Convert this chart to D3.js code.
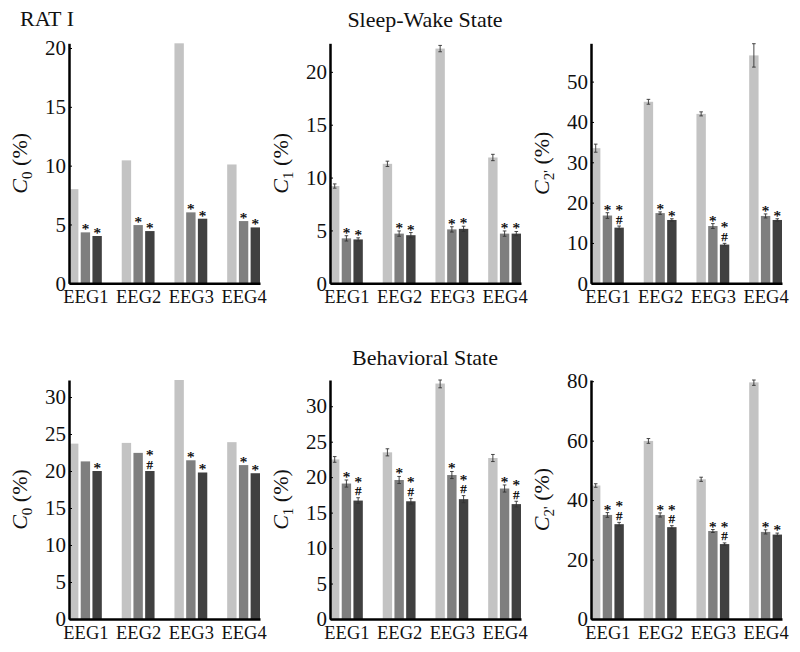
<!DOCTYPE html>
<html><head><meta charset="utf-8">
<script src="https://cdn.jsdelivr.net/npm/d3@7"></script>
<style>
html,body{margin:0;padding:0;background:#fff;}
svg{display:block;}
svg text{font-family:"Liberation Serif","Times New Roman",serif !important;}
</style></head>
<body><svg id="chart" width="800" height="652"></svg>
<script>
// ---------- data ----------
const groups = ["EEG1", "EEG2", "EEG3", "EEG4"];

// Sleep-Wake state
const sleepC0_b1 = [8.0, 10.45, 20.4, 10.1];
const sleepC0_b2 = [4.33, 4.95, 6.03, 5.29];
const sleepC0_b3 = [4.02, 4.44, 5.49, 4.75];
const sleepC0_s2 = ["*", "*", "*", "*"];
const sleepC0_s3 = ["*", "*", "*", "*"];
const sleepC0_ticks = [0, 5, 10, 15, 20];

const sleepC1_b1 = [9.2, 11.3, 22.2, 11.9];
const sleepC1_b2 = [4.25, 4.7, 5.1, 4.7];
const sleepC1_b3 = [4.15, 4.55, 5.15, 4.7];
const sleepC1_e1 = [0.2, 0.25, 0.3, 0.3];
const sleepC1_e2 = [0.25, 0.25, 0.25, 0.25];
const sleepC1_e3 = [0.15, 0.25, 0.25, 0.2];
const sleepC1_s2 = ["*", "*", "*", "*"];
const sleepC1_s3 = ["*", "*", "*", "*"];
const sleepC1_ticks = [0, 5, 10, 15, 20];

const sleepC2_b1 = [33.5, 45.0, 42.0, 56.5];
const sleepC2_b2 = [16.8, 17.4, 14.2, 16.7];
const sleepC2_b3 = [13.8, 15.7, 9.6, 15.7];
const sleepC2_e1 = [1.0, 0.6, 0.5, 2.9];
const sleepC2_e2 = [0.7, 0.3, 0.6, 0.5];
const sleepC2_e3 = [0.4, 0.3, 0.3, 0.3];
const sleepC2_s2 = ["*", "*", "*", "*"];
const sleepC2_s3 = ["*#", "*", "*#", "*"];
const sleepC2_ticks = [0, 10, 20, 30, 40, 50];

// Behavioral state
const behC0_b1 = [23.7, 23.8, 32.3, 23.9];
const behC0_b2 = [21.3, 22.45, 21.45, 20.8];
const behC0_b3 = [20.0, 20.0, 19.8, 19.7];
const behC0_s2 = ["", "", "*", "*"];
const behC0_s3 = ["*", "*#", "*", "*"];
const behC0_ticks = [0, 5, 10, 15, 20, 25, 30];

const behC1_b1 = [22.5, 23.5, 33.2, 22.7];
const behC1_b2 = [19.1, 19.6, 20.3, 18.4];
const behC1_b3 = [16.7, 16.6, 16.9, 16.2];
const behC1_e1 = [0.4, 0.5, 0.6, 0.5];
const behC1_e2 = [0.5, 0.5, 0.5, 0.5];
const behC1_e3 = [0.4, 0.4, 0.5, 0.4];
const behC1_s2 = ["*", "*", "*", "*"];
const behC1_s3 = ["*#", "*#", "*#", "*#"];
const behC1_ticks = [0, 5, 10, 15, 20, 25, 30];

const behC2_b1 = [44.9, 59.9, 47.0, 79.6];
const behC2_b2 = [35.0, 35.0, 29.6, 29.3];
const behC2_b3 = [31.9, 30.9, 25.2, 28.4];
const behC2_e1 = [0.6, 0.8, 0.7, 1.0];
const behC2_e2 = [0.8, 0.7, 0.5, 0.7];
const behC2_e3 = [0.6, 0.5, 0.4, 0.5];
const behC2_s2 = ["*", "*", "*", "*"];
const behC2_s3 = ["*#", "*#", "*#", "*"];
const behC2_ticks = [0, 20, 40, 60, 80];

const panels = [
  {row:0, col:0, sub:"0", prime:false, max:20.4, ticks:sleepC0_ticks, b:[sleepC0_b1,sleepC0_b2,sleepC0_b3], e:null, s:[null,sleepC0_s2,sleepC0_s3]},
  {row:0, col:1, sub:"1", prime:false, max:22.7, ticks:sleepC1_ticks, b:[sleepC1_b1,sleepC1_b2,sleepC1_b3], e:[sleepC1_e1,sleepC1_e2,sleepC1_e3], s:[null,sleepC1_s2,sleepC1_s3]},
  {row:0, col:2, sub:"2", prime:true, max:59.5, ticks:sleepC2_ticks, b:[sleepC2_b1,sleepC2_b2,sleepC2_b3], e:[sleepC2_e1,sleepC2_e2,sleepC2_e3], s:[null,sleepC2_s2,sleepC2_s3]},
  {row:1, col:0, sub:"0", prime:false, max:32.3, ticks:behC0_ticks, b:[behC0_b1,behC0_b2,behC0_b3], e:null, s:[null,behC0_s2,behC0_s3]},
  {row:1, col:1, sub:"1", prime:false, max:33.7, ticks:behC1_ticks, b:[behC1_b1,behC1_b2,behC1_b3], e:[behC1_e1,behC1_e2,behC1_e3], s:[null,behC1_s2,behC1_s3]},
  {row:1, col:2, sub:"2", prime:true, max:80.4, ticks:behC2_ticks, b:[behC2_b1,behC2_b2,behC2_b3], e:[behC2_e1,behC2_e2,behC2_e3], s:[null,behC2_s2,behC2_s3]}
];

// ---------- layout ----------
const colLeft = [69, 330, 591];
const plotW = 191;
const rowTop = [43.3, 380];
const rowBottom = [283.3, 619];
const barColors = ["#c3c3c3", "#7f7f7f", "#404040"];
const offsets = [-2/9, 0, 2/9];
const barW = 0.178;

const svg = d3.select("#chart");

svg.append("text").attr("x", 20).attr("y", 26).attr("font-size", 22).attr("fill", "#111").text("RAT I");
svg.append("text").attr("x", 425).attr("y", 27).attr("text-anchor", "middle").attr("font-size", 22).attr("fill", "#111").text("Sleep-Wake State");
svg.append("text").attr("x", 425).attr("y", 365).attr("text-anchor", "middle").attr("font-size", 22).attr("fill", "#111").text("Behavioral State");

panels.forEach(p => {
  const L = colLeft[p.col], T = rowTop[p.row], B = rowBottom[p.row];
  const x = d3.scaleLinear().domain([1 - 2/9 - barW/2, 4 + 2/9 + barW/2]).range([L, L + plotW]);
  const y = d3.scaleLinear().domain([0, p.max]).range([B, T]).clamp(true);
  const g = svg.append("g");

  // bars
  p.b.forEach((vals, si) => {
    g.selectAll(null).data(vals).enter().append("rect")
      .attr("x", (d, i) => x(i + 1 + offsets[si] - barW/2))
      .attr("width", (d, i) => x(i + 1 + offsets[si] + barW/2) - x(i + 1 + offsets[si] - barW/2))
      .attr("y", d => y(d))
      .attr("height", d => B - y(d))
      .attr("fill", barColors[si]);
  });

  // error bars
  if (p.e) {
    p.b.forEach((vals, si) => {
      vals.forEach((v, i) => {
        const cx = x(i + 1 + offsets[si]);
        const err = p.e[si][i];
        const y1 = y(v + err), y0 = y(v - err);
        g.append("line").attr("x1", cx).attr("x2", cx).attr("y1", y0).attr("y2", y1).attr("stroke", "#333").attr("stroke-width", 0.9);
        [y0, y1].forEach(yy => g.append("line").attr("x1", cx - 1.8).attr("x2", cx + 1.8).attr("y1", yy).attr("y2", yy).attr("stroke", "#333").attr("stroke-width", 0.9));
      });
    });
  }

  // significance marks (one text element per bar; "#" stacked under "*")
  p.s.forEach((marks, si) => {
    if (!marks) return;
    marks.forEach((m, i) => {
      if (!m) return;
      const v = p.b[si][i] + (p.e ? p.e[si][i] : 0);
      const cx = x(i + 1 + offsets[si]);
      const topY = y(v);
      const t = g.append("text").attr("text-anchor", "middle").attr("fill", "#000")
        .attr("stroke", "#000").attr("stroke-width", 0.25);
      if (m === "*") {
        t.append("tspan").attr("x", cx).attr("y", topY + 2).attr("font-size", 15).text("*");
      } else {
        t.append("tspan").attr("x", cx).attr("y", topY - 11).attr("font-size", 15).text("*");
        t.append("tspan").attr("x", cx).attr("y", topY - 2.5).attr("font-size", 13).text("#");
      }
    });
  });

  // y axis
  const ya = g.append("g").attr("transform", `translate(${L},0)`)
    .call(d3.axisLeft(y).tickValues(p.ticks).tickFormat(d3.format("d")).tickSizeInner(-3).tickSizeOuter(0).tickPadding(3));
  ya.attr("font-family", null);
  ya.select(".domain").attr("stroke", "#000").attr("stroke-width", 2.5);
  ya.selectAll(".tick line").attr("stroke", "#000");
  ya.selectAll(".tick text").attr("font-size", 21).attr("fill", "#111");

  // x axis
  const xa = g.append("g").attr("transform", `translate(0,${B})`)
    .call(d3.axisBottom(x).tickValues([1, 2, 3, 4]).tickFormat((d, i) => groups[i]).tickSize(0).tickPadding(7));
  xa.attr("font-family", null);
  xa.select(".domain").attr("stroke", "#000").attr("stroke-width", 2.5);
  xa.selectAll(".tick text").attr("font-size", 18.5).attr("fill", "#111");

  // y label
  const lx = L - 42, ly = (T + B) / 2;
  const t = g.append("text").attr("transform", `translate(${lx},${ly}) rotate(-90)`)
    .attr("text-anchor", "middle").attr("font-size", 22).attr("fill", "#111");
  t.append("tspan").attr("font-style", "italic").text("C");
  t.append("tspan").attr("font-size", 15).attr("dy", 5).text(p.sub + (p.prime ? "'" : ""));
  t.append("tspan").attr("dy", -5).text(" (%)");
});
</script>
</body></html>
